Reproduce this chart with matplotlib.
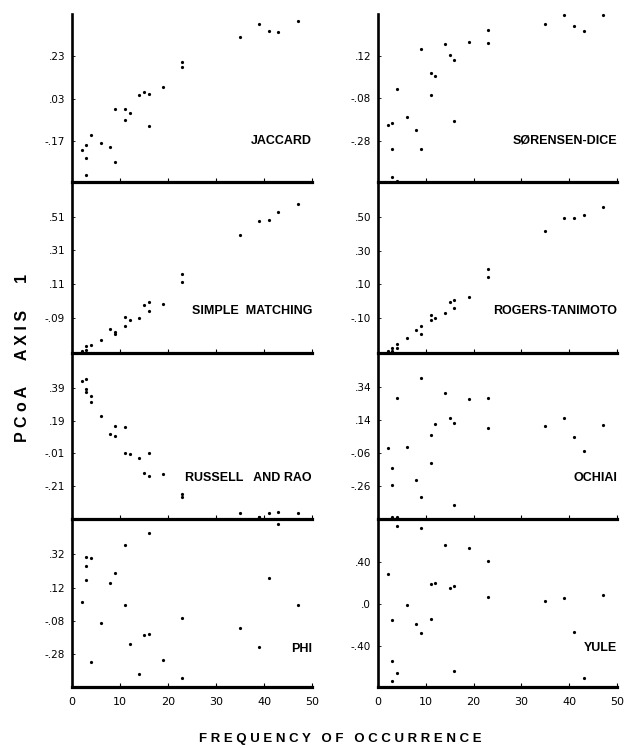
"""Eight stacked PCoA panels: axis-1 score vs frequency of occurrence, one panel per coefficient."""
import matplotlib
matplotlib.use("Agg")
import matplotlib.pyplot as plt  # noqa: E402

# --- data (frequency, PCoA axis 1 score) ---
jaccard_freq = [2, 3, 3, 3, 4, 6, 8, 9, 9, 11, 11, 12, 14, 15, 16, 16, 19, 23, 23, 35, 39, 41, 43, 47]
jaccard_pc1 = [-0.21, -0.19, -0.25, -0.33, -0.14, -0.18, -0.20, -0.27, -0.02, -0.02, -0.07, -0.04,
               0.045, 0.06, 0.05, -0.10, 0.085, 0.20, 0.18, 0.32, 0.38, 0.35, 0.345, 0.395]

sorensen_freq = [2, 3, 3, 3, 4, 4, 6, 8, 9, 9, 11, 11, 12, 14, 15, 16, 16, 19, 23, 23, 35, 39, 41, 43, 47]
sorensen_pc1 = [-0.206, -0.198, -0.319, -0.453, -0.036, -0.472, -0.169, -0.231, 0.153, -0.321,
                0.041, -0.064, 0.026, 0.177, 0.123, 0.101, -0.187, 0.188, 0.243, 0.183,
                0.270, 0.311, 0.263, 0.238, 0.311]

simple_freq = [2, 3, 3, 4, 6, 8, 9, 9, 11, 11, 12, 14, 15, 16, 16, 19, 23, 23, 35, 39, 41, 43, 47]
simple_pc1 = [-0.286, -0.284, -0.256, -0.254, -0.221, -0.157, -0.175, -0.187, -0.088, -0.139,
              -0.106, -0.092, -0.015, 0.003, -0.048, -0.009, 0.168, 0.120, 0.401, 0.486,
              0.490, 0.536, 0.583]

rogers_freq = [2, 3, 3, 4, 4, 6, 8, 9, 9, 11, 11, 12, 14, 15, 16, 16, 19, 23, 23, 35, 39, 41, 43, 47]
rogers_pc1 = [-0.297, -0.281, -0.300, -0.257, -0.281, -0.221, -0.172, -0.150, -0.199, -0.086,
              -0.116, -0.102, -0.070, -0.008, 0.004, -0.040, 0.022, 0.189, 0.141, 0.416,
              0.494, 0.498, 0.516, 0.563]

russell_freq = [2, 3, 3, 3, 4, 4, 6, 8, 9, 9, 11, 11, 12, 14, 15, 16, 16, 19, 23, 23, 35, 39, 39, 41, 43, 47]
russell_pc1 = [0.435, 0.447, 0.384, 0.369, 0.344, 0.306, 0.221, 0.107, 0.160, 0.094, 0.152,
               -0.010, -0.017, -0.038, -0.132, -0.152, -0.010, -0.136, -0.261, -0.278,
               -0.381, -0.400, -0.405, -0.380, -0.374, -0.380]

ochiai_freq = [2, 3, 3, 4, 6, 8, 9, 9, 11, 11, 12, 14, 15, 16, 16, 19, 23, 23, 35, 39, 41, 43, 47]
ochiai_pc1 = [-0.032, -0.150, -0.255, 0.269, -0.022, -0.225, 0.391, -0.327, 0.050, -0.118,
              0.115, 0.301, 0.150, 0.122, -0.370, 0.265, 0.273, 0.092, 0.104, 0.150,
              0.038, -0.048, 0.112]

phi_freq = [2, 3, 3, 3, 4, 4, 6, 8, 9, 11, 11, 12, 14, 15, 16, 16, 19, 23, 23, 35, 39, 41, 43, 47]
phi_pc1 = [0.032, 0.304, 0.252, 0.166, 0.296, -0.324, -0.092, 0.146, 0.210, 0.378, 0.016,
           -0.220, -0.400, -0.166, -0.156, 0.446, -0.312, -0.420, -0.062, -0.124, -0.234,
           0.180, 0.502, 0.014]

yule_freq = [2, 3, 3, 3, 3, 4, 4, 4, 6, 8, 9, 9, 11, 11, 12, 14, 15, 16, 16, 19, 23, 23, 35, 39, 41, 43, 47]
yule_pc1 = [0.283, 0.829, -0.155, -0.546, -0.739, 0.822, 0.737, -0.660, -0.012, -0.190, 0.718,
            -0.282, 0.185, -0.149, 0.194, 0.562, 0.152, 0.171, -0.641, 0.527, 0.410, 0.067,
            0.023, 0.051, -0.267, -0.710, 0.080]

panel_names = ["JACCARD", "SØRENSEN-DICE", "SIMPLE  MATCHING", "ROGERS-TANIMOTO",
               "RUSSELL   AND RAO", "OCHIAI", "PHI", "YULE"]
panel_freqs = [jaccard_freq, sorensen_freq, simple_freq, rogers_freq,
               russell_freq, ochiai_freq, phi_freq, yule_freq]
panel_scores = [jaccard_pc1, sorensen_pc1, simple_pc1, rogers_pc1,
                russell_pc1, ochiai_pc1, phi_pc1, yule_pc1]

panel_yticks = [[0.23, 0.03, -0.17], [0.12, -0.08, -0.28],
                [0.51, 0.31, 0.11, -0.09], [0.50, 0.30, 0.10, -0.10],
                [0.39, 0.19, -0.01, -0.21], [0.34, 0.14, -0.06, -0.26],
                [0.32, 0.12, -0.08, -0.28], [0.40, 0.0, -0.40]]
panel_ylabels = [[".23", ".03", "-.17"], [".12", "-.08", "-.28"],
                 [".51", ".31", ".11", "-.09"], [".50", ".30", ".10", "-.10"],
                 [".39", ".19", "-.01", "-.21"], [".34", ".14", "-.06", "-.26"],
                 [".32", ".12", "-.08", "-.28"], [".40", ".0", "-.40"]]

x_ticks = [0, 10, 20, 30, 40, 50]
x_ticklabels = ["0", "10", "20", "30", "40", "50"]

# --- layout (pixels of a 626x748 canvas) ---
W, H = 626, 748
COL_X = [(72, 240), (378, 239)]
ROW_Y = [(14, 182), (182, 353), (353, 519), (519, 687)]
YLIMS = [(-0.363, 0.428), (-0.475, 0.318), (-0.300, 0.716), (-0.311, 0.711),
         (-0.415, 0.607), (-0.457, 0.543), (-0.476, 0.532), (-0.793, 0.807)]
LABEL_UP = [41, 41, 42, 42, 41, 41, 38, 39]   # px above bottom spine

TICK_FONT = "DejaVu Sans"
BOLD_FONT = "Liberation Sans"

fig = plt.figure(figsize=(W / 100, H / 100), dpi=100)

for k in range(8):
    row, col = divmod(k, 2)
    x0, w = COL_X[col]
    top, bot = ROW_Y[row]
    ax = fig.add_axes([x0 / W, 1 - bot / H, w / W, (bot - top) / H])
    ax.patch.set_alpha(0)

    ax.plot(panel_freqs[k], panel_scores[k], "o", ms=2.3, color="black",
            mec="black", mew=0, clip_on=False, zorder=5)

    ax.set_xlim(0, 50)
    ax.set_ylim(*YLIMS[k])
    for s in ("top", "right"):
        ax.spines[s].set_visible(False)
    ax.spines["left"].set_linewidth(1.9)
    ax.spines["bottom"].set_linewidth(2.3)

    ax.set_yticks(panel_yticks[k])
    ax.set_yticklabels(panel_ylabels[k], fontsize=7.5, family=TICK_FONT)
    ax.tick_params(axis="y", direction="in", length=2, width=0.6, pad=5)
    ax.set_xticks(x_ticks)
    ax.tick_params(axis="x", direction="in", length=3, width=0.8, pad=7)
    if row == 3:
        ax.set_xticklabels(x_ticklabels, fontsize=8, family=TICK_FONT)
    else:
        ax.set_xticklabels([])

    ax.annotate(panel_names[k], xy=(1, 0), xycoords="axes fraction",
                xytext=(0, LABEL_UP[k]), textcoords="offset pixels",
                ha="right", va="center", fontsize=9, fontweight="bold",
                family=BOLD_FONT)

fig.text(23 / W, 1 - 358 / H, "P C o A      A X I S      1", rotation=90,
         ha="center", va="center", fontsize=11.5, fontweight="bold", family=BOLD_FONT)
fig.text(340 / W, 1 - 739 / H, "F R E Q U E N C Y   O F   O C C U R R E N C E",
         ha="center", va="center", fontsize=9.5, fontweight="bold", family=BOLD_FONT)

fig.savefig("out.png", dpi=100)
